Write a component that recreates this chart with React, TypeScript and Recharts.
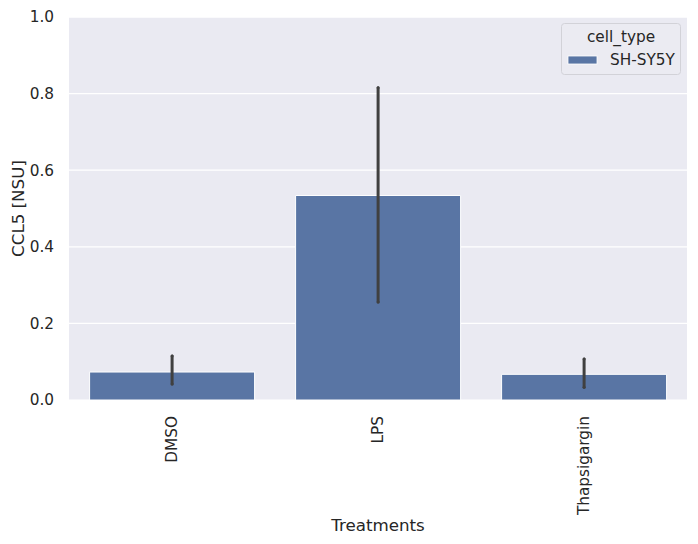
import React from "react";
import {
  BarChart,
  Bar,
  XAxis,
  YAxis,
  CartesianGrid,
  ErrorBar,
  Legend,
  Label,
} from "recharts";

const treatments = ["DMSO", "LPS", "Thapsigargin"];
const meanValues = [0.073, 0.534, 0.067];
const ciLow = [0.042, 0.256, 0.033];
const ciHigh = [0.115, 0.815, 0.107];
const yTicks = [0, 0.2, 0.4, 0.6, 0.8, 1.0];
const seriesName = "SH-SY5Y";
const legendTitle = "cell_type";

const FONT = "DejaVu Sans, sans-serif";
const TEXT = "#262626";
const BAR = "#5975a4";

const data = treatments.map((t, i) => ({
  treatment: t,
  value: meanValues[i],
  err: [meanValues[i] - ciLow[i], ciHigh[i] - meanValues[i]],
}));

function RotatedTick(props: any) {
  const { x, y, payload } = props;
  return (
    <text
      x={x}
      y={y}
      transform={`rotate(-90, ${x}, ${y})`}
      textAnchor="end"
      dy="0.35em"
      fill={TEXT}
      fontSize={15.3}
      fontFamily={FONT}
    >
      {payload.value}
    </text>
  );
}

function YLabel(props: any) {
  const vb = props.viewBox || { y: 17, height: 383 };
  const cx = 18;
  const cy = vb.y + vb.height / 2;
  return (
    <text
      x={cx}
      y={cy}
      transform={`rotate(-90, ${cx}, ${cy})`}
      textAnchor="middle"
      dy="0.35em"
      fill={TEXT}
      fontSize={16.7}
      fontFamily={FONT}
    >
      CCL5 [NSU]
    </text>
  );
}

function LegendBox(props: any) {
  const item = (props.payload && props.payload[0]) || {};
  return (
    <svg width={121} height={53} style={{ display: "block" }}>
      <rect x={0.5} y={0.5} width={119} height={51} rx={3} fill="#ebebf2" stroke="#d2d2d8" />
      <text x={60} y={18.7} textAnchor="middle" fill={TEXT} fontSize={15.3} fontFamily={FONT}>
        {legendTitle}
      </text>
      <rect x={7} y={33} width={29} height={8} fill={item.color || BAR} stroke="#fff" strokeWidth={0.8} />
      <text x={49} y={42} fill={TEXT} fontSize={15.3} fontFamily={FONT}>
        {item.value || seriesName}
      </text>
    </svg>
  );
}

export default function App() {
  return (
    <div style={{ position: "absolute", left: 0, top: 0, width: 698, height: 544, background: "#fff" }}>
      <BarChart
        width={698}
        height={544}
        data={data}
        margin={{ top: 17, right: 11, left: 0, bottom: 0 }}
        barCategoryGap="10%"
        style={{ fontFamily: FONT }}
      >
        <CartesianGrid
          vertical={false}
          stroke="#ffffff"
          strokeWidth={1.25}
          fill="#eaeaf2"
          fillOpacity={1}
        />
        <XAxis
          dataKey="treatment"
          height={144}
          axisLine={false}
          tickLine={false}
          tickSize={0}
          tickMargin={16}
          interval={0}
          tick={<RotatedTick />}
        >
          <Label
            value="Treatments"
            position="insideBottom"
            offset={13}
            fill={TEXT}
            fontSize={16.7}
            fontFamily={FONT}
          />
        </XAxis>
        <YAxis
          width={69}
          domain={[0, 1]}
          ticks={yTicks}
          axisLine={false}
          tickLine={false}
          tickSize={0}
          tickMargin={15}
          tickFormatter={(v: number) => v.toFixed(1)}
          tick={{ fill: TEXT, fontSize: 15.3, fontFamily: FONT }}
          label={<YLabel />}
        />
        <Legend
          layout="vertical"
          align="center"
          verticalAlign="middle"
          wrapperStyle={{ position: "absolute", left: 561, top: 23, width: 121, height: 53 }}
          content={<LegendBox />}
        />
        <Bar
          dataKey="value"
          name={seriesName}
          fill={BAR}
          stroke="#ffffff"
          strokeWidth={1}
          isAnimationActive={false}
        >
          <ErrorBar
            dataKey="err"
            width={0}
            stroke="#404040"
            strokeWidth={3}
            strokeLinecap="round"
            isAnimationActive={false}
          />
        </Bar>
      </BarChart>
    </div>
  );
}
